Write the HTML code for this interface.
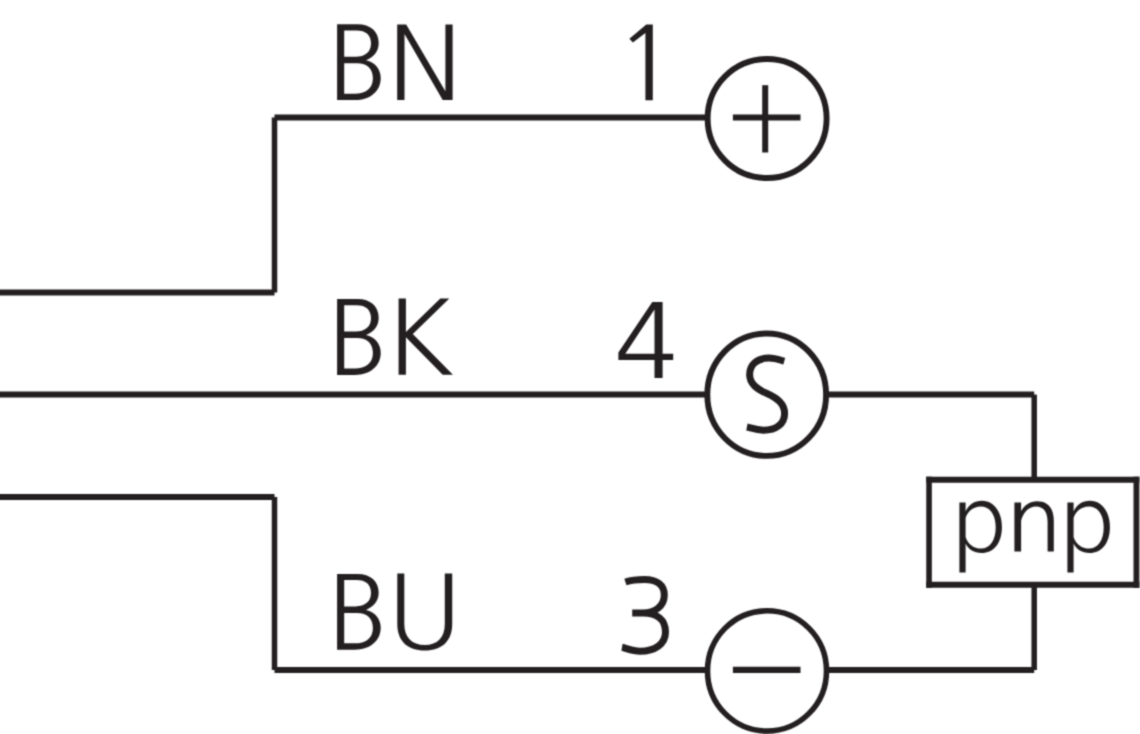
<!DOCTYPE html>
<html>
<head>
<meta charset="utf-8">
<style>
html,body{margin:0;padding:0;background:#fff;width:1140px;height:734px;overflow:hidden;font-family:"Liberation Sans",sans-serif;}
svg{display:block;position:absolute;left:0;top:0;}
</style>
</head>
<body>
<svg width="1140" height="734" viewBox="0 0 1140 734">
<defs>
<filter id="soft" filterUnits="userSpaceOnUse" x="0" y="0" width="1140" height="734" color-interpolation-filters="sRGB"><feConvolveMatrix order="3" kernelMatrix="0.04 0.12 0.04 0.12 0.36 0.12 0.04 0.12 0.04" edgeMode="duplicate"/></filter>
<path id="B" fill="#231f20" fill-rule="evenodd" d="M337.1,24.3 H357.5 C370.5,24.3 378.7,31.5 378.7,43 C378.7,51.5 373.5,57.5 366,60.3 C375.5,62.5 380.7,69.5 380.7,78 C380.7,91.5 370,100.1 355,100.1 H337.1 Z M344.2,30.4 H356.5 C366,30.4 371,35 371,43.5 C371,52 365,56.8 355.5,56.8 H344.2 Z M344.2,63.3 H357 C367.5,63.3 372.9,69 372.9,78.3 C372.9,88.5 366,93.7 354.5,93.7 H344.2 Z"/>
</defs>
<g filter="url(#soft)">
<g fill="none" stroke="#231f20" stroke-linecap="butt">
  <!-- wires: horizontals -->
  <g stroke-width="6">
  <path d="M274.5,117.4 H707.5"/>
  <path d="M0,292.55 H274.5"/>
  <path d="M0,394.6 H707.5"/>
  <path d="M826.5,394.6 H1034.2"/>
  <path d="M0,497 H274.5"/>
  <path d="M274.5,670 H707.5"/>
  <path d="M826.5,670 H1034.2"/>
  <path d="M926.2,479.67 H1139.3"/>
  <path d="M926.2,584.8 H1139.3"/>
  </g>
  <!-- wires: verticals -->
  <g stroke-width="5.5">
  <path d="M274.5,117.4 V292.55"/>
  <path d="M274.5,497 V670"/>
  <path d="M1034.2,394.6 V479.67"/>
  <path d="M1034.2,670 V584.8"/>
  <path d="M929.05,476.67 V587.8" stroke-width="5.6"/>
  <path d="M1136.4,476.67 V587.8" stroke-width="5.8"/>
  </g>
  <!-- circles -->
  <circle cx="767.1" cy="118.5" r="59.5" stroke-width="5.9"/>
  <ellipse cx="766.7" cy="394.7" rx="59.4" ry="61.2" stroke-width="5.9"/>
  <ellipse cx="767" cy="670.9" rx="59.5" ry="60.1" stroke-width="5.6"/>
  <!-- plus / minus -->
  <path d="M732.9,117.5 H800.5" stroke-width="6.1"/>
  <path d="M765.2,85.2 V152.5" stroke-width="6"/>
  <path d="M732.9,669.9 H800.5" stroke-width="6.1"/>
</g>
<!-- labels -->
<use href="#B"/>
<use href="#B" transform="translate(0,274.8)"/>
<use href="#B" transform="translate(0,549.6)"/>
<g fill="#231f20">
  <!-- N -->
  <path d="M397.2,24.4 L406.2,24.4 L445.4,91.3 L445.4,24.4 L452.6,24.4 L452.6,99.9 L442.7,99.9 L404.5,33.9 L404.5,99.9 L397.2,99.9 Z"/>
  <!-- K -->
  <path d="M398.6,298.6 L405.9,298.6 L405.9,332 L440.3,298.6 L449.3,298.6 L412.8,334 L452.9,374.7 L442.7,374.7 L405.9,337.3 L405.9,374.7 L398.6,374.7 Z"/>
  <!-- U -->
  <path d="M397.3,573.6 V624 C397.3,641 407.5,650.5 424.8,650.5 C442,650.5 452.2,641 452.2,624 V573.6 H444.8 V624 C444.8,637.5 437.5,645 424.8,645 C412,645 404.3,637.5 404.3,624 V573.6 Z"/>
  <!-- 1 -->
  <path d="M646.3,24.6 L652.8,24.6 L652.8,100.2 L645.4,100.2 L645.4,33 L632.9,42.6 L629.4,38.8 Z"/>
  <!-- 4 -->
  <path fill-rule="evenodd" d="M652.3,301.9 L662.6,301.9 L662.6,353.8 L673.2,353.8 L673.2,360 L662.6,360 L662.6,377.9 L654.5,377.9 L654.5,360 L618.4,360 L618.4,352.6 Z M654.5,309.6 L654.5,353.8 L625.3,353.8 Z"/>
</g>
<g fill="none" stroke="#231f20" stroke-width="7.2" stroke-linecap="butt">
  
  <!-- 3 -->
  <path d="M625.4,582 C630,580.5 637,579.5 644.5,579.5 C657,579.5 664.3,585 664.3,595 C664.3,606 655,613 643,613 H632.2 M643,613 C657,613 665.5,620 665.5,632 C665.5,644 655,651.2 640,651.2 C632,651.2 626,648 622,647.3" stroke-width="7"/>
  <!-- S -->
  <path d="M784.3,361.2 C780,360 775,358.1 769,358.1 C757,358.1 749.65,365 749.65,374.5 C749.65,384 757,389 767,393.5 C778,398.5 784.6,404 784.6,413.4 C784.6,424 776,430.25 763.5,430.25 C756,430.25 750.5,427.7 746.9,427" stroke-width="7"/>
</g>
<g fill="#231f20">
  <!-- p n p -->
  <path id="pglyph" fill-rule="evenodd" d="M959.4,502.5 H965.6 V511.5 C968.5,505 974,500.8 982,500.8 C994,500.8 1001.9,512 1001.9,527 C1001.9,543 994,553 981.5,553 C974,553 968.5,549.5 965.6,543.5 V572.4 H959.4 Z M965.6,518 C968,510.5 974,506.5 981,506.5 C990,506.5 995.7,515 995.7,527.5 C995.7,540 990,548.6 981,548.6 C974,548.6 968,544.5 965.6,537 Z"/>
  <path d="M1014.4,502.5 H1021.1 V511 C1024.5,505 1030,501.2 1037,501.2 C1047.5,501.2 1053.8,507.5 1053.8,521 V551.6 H1047.6 V522 C1047.6,512 1043.5,506.5 1036,506.5 C1029,506.5 1023.5,512 1021.1,520.7 V551.6 H1014.4 Z"/>
  <use href="#pglyph" transform="translate(108,0)"/>
</g>
</g>
</svg>
</body>
</html>
